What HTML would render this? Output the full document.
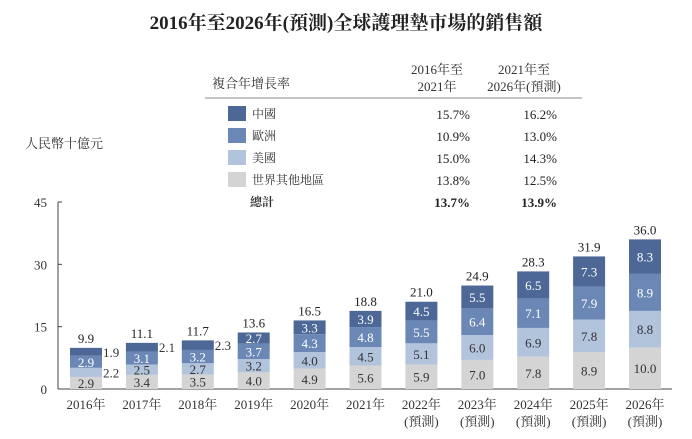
<!DOCTYPE html>
<html><head><meta charset="utf-8"><style>
body{margin:0;background:#fff;}
svg text{font-family:"Liberation Serif","Noto Serif CJK SC","Noto Sans CJK TC",serif;}
</style></head><body>
<svg width="692" height="434" viewBox="0 0 692 434" xmlns="http://www.w3.org/2000/svg" id="chart">
<text x="346" y="29" text-anchor="middle" font-size="19" font-weight="bold" fill="#222">2016年至2026年(預測)全球護理墊市場的銷售額</text>
<g font-size="13" fill="#333">
<text x="212" y="88">複合年增長率</text>
<text x="437" y="74" text-anchor="middle">2016年至</text>
<text x="437" y="91" text-anchor="middle">2021年</text>
<text x="524" y="74" text-anchor="middle">2021年至</text>
<text x="524" y="91" text-anchor="middle">2026年(預測)</text>
<line x1="205" y1="98" x2="582" y2="98" stroke="#888" stroke-width="1"/>
<g id="legendRows"></g>
</g>
<text x="25" y="148" font-size="13" fill="#333">人民幣十億元</text>
<g id="axes"></g><g id="bars"></g><g id="labels"></g>
</svg>
<script>
const categories=["2016年","2017年","2018年","2019年","2020年","2021年","2022年","2023年","2024年","2025年","2026年"];
const forecast=[false,false,false,false,false,false,true,true,true,true,true];
const rest=[2.9,3.4,3.5,4.0,4.9,5.6,5.9,7.0,7.8,8.9,10.0];
const usa=[2.2,2.5,2.7,3.2,4.0,4.5,5.1,6.0,6.9,7.8,8.8];
const europe=[2.9,3.1,3.2,3.7,4.3,4.8,5.5,6.4,7.1,7.9,8.9];
const china=[1.9,2.1,2.3,2.7,3.3,3.9,4.5,5.5,6.5,7.3,8.3];
const totals=[9.9,11.1,11.7,13.6,16.5,18.8,21.0,24.9,28.3,31.9,36.0];
const yTicks=[0,15,30,45];
const legendNames=["中國","歐洲","美國","世界其他地區","總計"];
const cagr1=["15.7%","10.9%","15.0%","13.8%","13.7%"];
const cagr2=["16.2%","13.0%","14.3%","12.5%","13.9%"];
const NS="http://www.w3.org/2000/svg";
function mk(t,a,p){const e=document.createElementNS(NS,t);for(const k in a)e.setAttribute(k,a[k]);p.appendChild(e);return e;}
const y0=389,yTop=202,yMax=45,x0=86,step=55.9,bw=32;
const y=v=>y0-(v/yMax)*(y0-yTop);
const x=i=>x0+i*step;
const colors={china:"#4d6896",europe:"#6b87b6",usa:"#b2c3dc",rest:"#d4d4d4"};
const ax=document.getElementById('axes');
let l=mk('line',{x1:58,y1:yTop,x2:58,y2:y0,stroke:'#444'},ax);


l=mk('line',{x1:58,y1:y0,x2:672,y2:y0,stroke:'#444'},ax);


yTicks.forEach(t=>{const tx=mk('text',{x:47,y:y(t)+5,'text-anchor':'end','font-size':13,fill:'#333'},ax);tx.textContent=t;


const tk=mk('line',{x1:58,y1:y(t),x2:62,y2:y(t),stroke:'#444'},ax);

});
const bars=document.getElementById('bars');
const labels=document.getElementById('labels');
const series=[["rest",rest,"#333"],["usa",usa,"#333"],["europe",europe,"#fff"],["china",china,"#fff"]];
categories.forEach((c,i)=>{let base=0;const g=mk('g',{},bars);


series.forEach(([n,arr,tc],si)=>{const v=arr[i];const top=y(base+v),bot=y(base);
const r=mk('rect',{x:x(i)-bw/2,y:top,width:bw,height:bot-top,fill:colors[n]},g);


const outside=(i<3&&(n==="china"||(i===0&&n==="usa")));
const t=mk('text',{x:outside?x(i)+bw/2+1:x(i),y:(top+bot)/2+5,'text-anchor':outside?'start':'middle','font-size':13,fill:outside?'#333':tc},labels);
t.textContent=v.toFixed(1);


base+=v;});
const tt=mk('text',{x:x(i),y:y(base)-5,'text-anchor':'middle','font-size':13,fill:'#222'},labels);tt.textContent=totals[i].toFixed(1);


const cl=mk('text',{x:x(i),y:409,'text-anchor':'middle','font-size':13,fill:'#333'},labels);cl.textContent=c;


if(forecast[i]){const f=mk('text',{x:x(i),y:426,'text-anchor':'middle','font-size':13,fill:'#333'},labels);f.textContent="(預測)";

}
});
const lr=document.getElementById('legendRows');
const sw=[colors.china,colors.europe,colors.usa,colors.rest,null];
legendNames.forEach((n,i)=>{const yy=118+i*22;const g=mk('g',{},lr);


if(sw[i]){const r=mk('rect',{x:228,y:yy-12,width:18,height:15,fill:sw[i]},g);

}
const bold=i===4;
const t=mk('text',{x:bold?250:252,y:yy,'font-size':12,'font-weight':bold?'bold':'normal',fill:'#333'},g);t.textContent=n;


const a=mk('text',{x:470,y:yy+1,'text-anchor':'end','font-size':13,'font-weight':bold?'bold':'normal',fill:'#222'},g);a.textContent=cagr1[i];


const b=mk('text',{x:557,y:yy+1,'text-anchor':'end','font-size':13,'font-weight':bold?'bold':'normal',fill:'#222'},g);b.textContent=cagr2[i];

});
</script>
</body></html>
